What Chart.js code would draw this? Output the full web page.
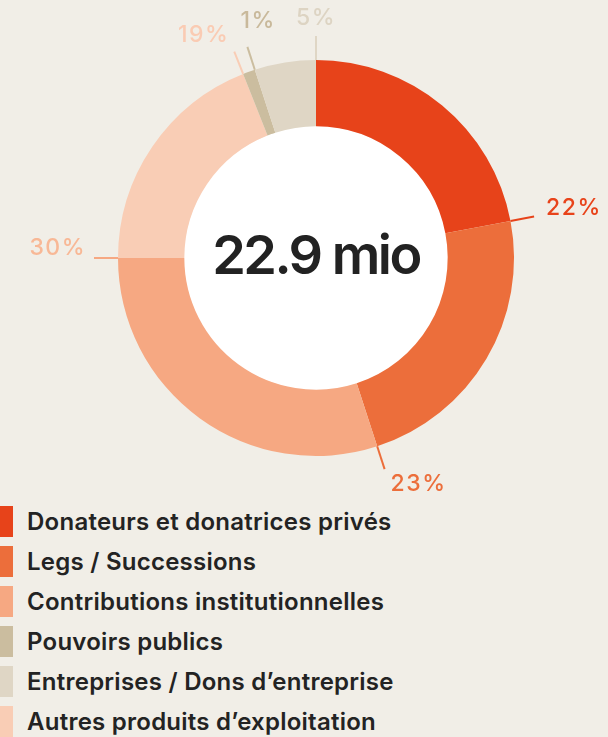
<!DOCTYPE html>
<html>
<head>
<meta charset="utf-8">
<script src="https://cdn.jsdelivr.net/npm/chart.js@4"></script>
<style>
  html, body { margin: 0; padding: 0; background: #f1eee7; }
  body { width: 608px; height: 737px; overflow: hidden; position: relative; font-family: Inter, "Noto Sans", sans-serif; }
  #wrap { position: absolute; left: 0; top: 0; width: 608px; height: 500px; }
  #legend { position: absolute; left: 0; top: 502px; }
  .row { position: relative; height: 40px; }
  .sw { position: absolute; left: -2px; top: 4px; width: 15px; height: 31px; }
  .tx { position: absolute; left: 27px; top: 0; line-height: 40px; font-size: 24px; font-weight: 600; letter-spacing: 0.25px; color: #232323; white-space: nowrap; }
</style>
</head>
<body>
<div id="wrap"><canvas id="c"></canvas></div>
<div id="legend"></div>
<script>
// ---- data ----
const categories = [
  "Donateurs et donatrices privés",
  "Legs / Successions",
  "Contributions institutionnelles",
  "Autres produits d’exploitation",
  "Pouvoirs publics",
  "Entreprises / Dons d’entreprise"
];
const shares = [22, 23, 30, 19, 1, 5];
const sliceColors = ["#e7431a", "#ec6e3b", "#f6a882", "#f9cdb5", "#cbbd9f", "#dfd6c5"];
const labelColors = ["#e8431a", "#ec6e3b", "#f8b896", "#facbb3", "#c9b99b", "#ddd4c3"];
const legendOrder = [
  "Donateurs et donatrices privés",
  "Legs / Successions",
  "Contributions institutionnelles",
  "Pouvoirs publics",
  "Entreprises / Dons d’entreprise",
  "Autres produits d’exploitation"
];
const totalLabel = "22.9 mio";

// label placement relative to leader end (style)
const labelPlace = [
  {align: "left",   dx: 12,  dy: -8},
  {align: "left",   dx: 6,   dy: 15},
  {align: "right",  dx: -8,  dy: -10},
  {align: "right",  dx: -5,  dy: -17},
  {align: "left",   dx: -7,  dy: -26},
  {align: "center", dx: 0,   dy: -18}
];

const leaderPlugin = {
  id: "leaders",
  beforeDatasetsDraw(chart) {
    const arc = chart.getDatasetMeta(0).data[0];
    if (!arc) return;
    const {x, y, innerRadius} = arc.getProps(["x", "y", "innerRadius"], true);
    const ctx = chart.ctx;
    ctx.save();
    ctx.fillStyle = "#ffffff";
    ctx.beginPath();
    ctx.arc(x, y, innerRadius + 0.5, 0, Math.PI * 2);
    ctx.fill();
    ctx.restore();
  },
  afterDatasetsDraw(chart) {
    const meta = chart.getDatasetMeta(0);
    const ctx = chart.ctx;
    ctx.save();
    meta.data.forEach((arc, i) => {
      const p = arc.getProps(["x", "y", "endAngle", "outerRadius", "innerRadius"], true);
      const a = p.endAngle;
      const cx = Math.cos(a), sy = Math.sin(a);
      const r0 = p.outerRadius, r1 = p.outerRadius + 24;
      ctx.strokeStyle = sliceColors[i];
      ctx.lineWidth = 2;
      ctx.beginPath();
      ctx.moveTo(p.x + cx * r0, p.y + sy * r0);
      ctx.lineTo(p.x + cx * r1, p.y + sy * r1);
      ctx.stroke();
      const ex = p.x + cx * r1, ey = p.y + sy * r1;
      const lp = labelPlace[i];
      ctx.fillStyle = labelColors[i];
      ctx.font = "500 23px Inter";
      ctx.letterSpacing = "1.5px";
      ctx.textAlign = lp.align;
      ctx.textBaseline = "middle";
      ctx.fillText(shares[i] + "%", ex + lp.dx, ey + lp.dy);
    });
    // centre total
    const p0 = meta.data[0].getProps(["x", "y"], true);
    ctx.fillStyle = "#222222";
    ctx.font = "600 54px Inter";
    ctx.letterSpacing = "-2.5px";
    ctx.textAlign = "center";
    ctx.textBaseline = "alphabetic";
    ctx.fillText(totalLabel, p0.x, p0.y + 16);
    ctx.restore();
  }
};

new Chart(document.getElementById("c"), {
  type: "doughnut",
  data: {
    labels: categories,
    datasets: [{
      data: shares,
      backgroundColor: sliceColors,
      borderWidth: 0,
      hoverOffset: 0
    }]
  },
  options: {
    responsive: true,
    maintainAspectRatio: false,
    animation: false,
    cutout: "66.5%",
    layout: { padding: { left: 118, right: 94, top: 60, bottom: 44 } },
    plugins: { legend: { display: false }, tooltip: { enabled: false } }
  },
  plugins: [leaderPlugin]
});

// HTML legend from the arrays
const lg = document.getElementById("legend");
legendOrder.forEach(name => {
  const i = categories.indexOf(name);
  const row = document.createElement("div");
  row.className = "row";
  const sw = document.createElement("div");
  sw.className = "sw";
  sw.style.background = sliceColors[i];
  const tx = document.createElement("div");
  tx.className = "tx";
  tx.textContent = name;
  row.appendChild(sw); row.appendChild(tx);
  lg.appendChild(row);
});
</script>
</body>
</html>
